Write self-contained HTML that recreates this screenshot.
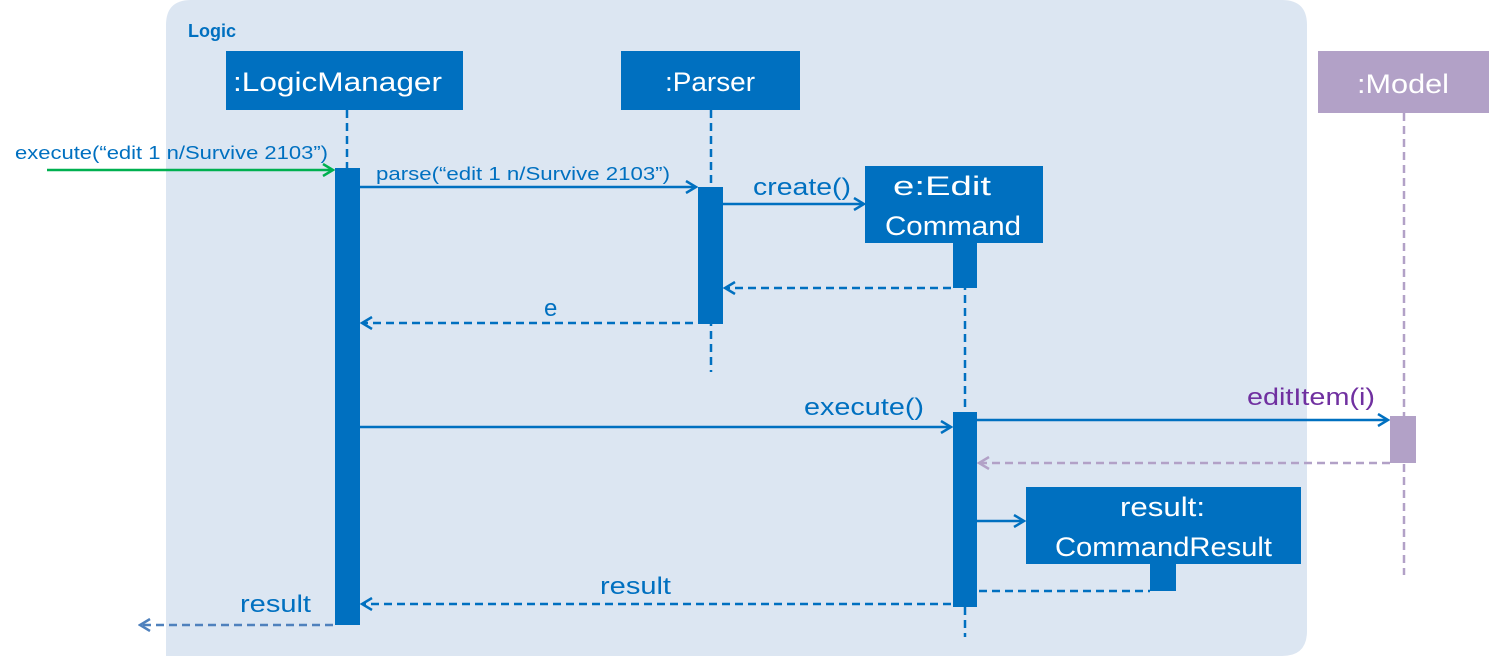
<!DOCTYPE html>
<html><head><meta charset="utf-8"><style>body{margin:0;background:#fff}svg{display:block}</style></head><body>
<svg width="1490" height="656" viewBox="0 0 1490 656" xmlns="http://www.w3.org/2000/svg" font-family="Liberation Sans, sans-serif">
<defs>
<marker id="ab" markerWidth="14" markerHeight="14" refX="12" refY="7" orient="auto" markerUnits="userSpaceOnUse"><path d="M2,1 L12,7 L2,13" fill="none" stroke="#0070c0" stroke-width="2.5"/></marker>
<marker id="ag" markerWidth="14" markerHeight="14" refX="12" refY="7" orient="auto" markerUnits="userSpaceOnUse"><path d="M2,1 L12,7 L2,13" fill="none" stroke="#00b050" stroke-width="2.5"/></marker>
<marker id="ap" markerWidth="14" markerHeight="14" refX="12" refY="7" orient="auto" markerUnits="userSpaceOnUse"><path d="M2,1 L12,7 L2,13" fill="none" stroke="#b2a1c7" stroke-width="2.5"/></marker>
<marker id="al" markerWidth="14" markerHeight="14" refX="12" refY="7" orient="auto" markerUnits="userSpaceOnUse"><path d="M2,1 L12,7 L2,13" fill="none" stroke="#4f81bd" stroke-width="2.5"/></marker>
</defs>
<path d="M166,656 L166,25 Q166,0 191,0 L1282,0 Q1307,0 1307,25 L1307,631 Q1307,656 1282,656 Z" fill="#dce6f2"/>
<text x="188" y="37" font-size="18" font-weight="bold" fill="#0070c0">Logic</text>

<g stroke="#0070c0" stroke-width="2.5" stroke-dasharray="8,5" fill="none">
<line x1="347" y1="110" x2="347" y2="168"/>
<line x1="711" y1="110" x2="711" y2="372"/>
<line x1="965" y1="243" x2="965" y2="637"/>
</g>
<line x1="1404" y1="113" x2="1404" y2="575" stroke="#b2a1c7" stroke-width="2.5" stroke-dasharray="8,5"/>

<g fill="#0070c0">
<rect x="226" y="51" width="237" height="59"/>
<rect x="621" y="51" width="179" height="59"/>
<rect x="865" y="166" width="178" height="77"/>
<rect x="1026" y="487" width="275" height="77"/>
<rect x="335" y="168" width="25" height="457"/>
<rect x="698" y="187" width="25" height="137"/>
<rect x="953" y="243" width="24" height="45"/>
<rect x="953" y="412" width="24" height="195"/>
<rect x="1150" y="564" width="26" height="27"/>
</g>
<rect x="1318" y="51" width="171" height="62" fill="#b2a1c7"/>
<rect x="1390" y="416" width="26" height="47" fill="#b2a1c7"/>

<g fill="#fff" font-size="27">
<text x="233" y="91" textLength="209" lengthAdjust="spacingAndGlyphs">:LogicManager</text>
<text x="665" y="91" textLength="90" lengthAdjust="spacingAndGlyphs">:Parser</text>
<text x="893" y="195" textLength="98" lengthAdjust="spacingAndGlyphs">e:Edit</text>
<text x="885" y="235" textLength="136" lengthAdjust="spacingAndGlyphs">Command</text>
<text x="1120" y="516" textLength="85" lengthAdjust="spacingAndGlyphs">result:</text>
<text x="1055" y="556" textLength="217" lengthAdjust="spacingAndGlyphs">CommandResult</text>
<text x="1357" y="93" textLength="92" lengthAdjust="spacingAndGlyphs">:Model</text>
</g>

<line x1="47" y1="170" x2="333" y2="170" stroke="#00b050" stroke-width="2.5" marker-end="url(#ag)"/>
<g stroke="#0070c0" stroke-width="2.5" fill="none">
<line x1="360" y1="187" x2="696" y2="187" marker-end="url(#ab)"/>
<line x1="723" y1="204" x2="864" y2="204" marker-end="url(#ab)"/>
<line x1="360" y1="427" x2="951" y2="427" marker-end="url(#ab)"/>
<line x1="977" y1="420" x2="1388" y2="420" marker-end="url(#ab)"/>
<line x1="977" y1="521" x2="1024" y2="521" marker-end="url(#ab)"/>
<g stroke-dasharray="8,5">
<line x1="951" y1="288" x2="725" y2="288" marker-end="url(#ab)"/>
<line x1="693" y1="323" x2="362" y2="323" marker-end="url(#ab)"/>
<line x1="979" y1="591" x2="1150" y2="591"/>
<line x1="951" y1="604" x2="362" y2="604" marker-end="url(#ab)"/>
</g>
</g>
<line x1="1390" y1="463" x2="979" y2="463" stroke="#b2a1c7" stroke-width="2.5" stroke-dasharray="8,5" marker-end="url(#ap)"/>
<line x1="333" y1="625" x2="140" y2="625" stroke="#4f81bd" stroke-width="2.5" stroke-dasharray="8,5" marker-end="url(#al)"/>

<g fill="#0070c0">
<text x="15" y="159" font-size="18" textLength="313" lengthAdjust="spacingAndGlyphs">execute(“edit 1 n/Survive 2103”)</text>
<text x="376" y="180" font-size="18" textLength="294" lengthAdjust="spacingAndGlyphs">parse(“edit 1 n/Survive 2103”)</text>
<text x="753" y="195" font-size="24" textLength="98" lengthAdjust="spacingAndGlyphs">create()</text>
<text x="544" y="316" font-size="24">e</text>
<text x="804" y="415" font-size="24" textLength="120" lengthAdjust="spacingAndGlyphs">execute()</text>
<text x="600" y="594" font-size="24" textLength="71" lengthAdjust="spacingAndGlyphs">result</text>
<text x="240" y="612" font-size="24" textLength="71" lengthAdjust="spacingAndGlyphs">result</text>
</g>
<text x="1247" y="405" font-size="24" fill="#7030a0" textLength="128" lengthAdjust="spacingAndGlyphs">editItem(i)</text>
</svg>
</body></html>
